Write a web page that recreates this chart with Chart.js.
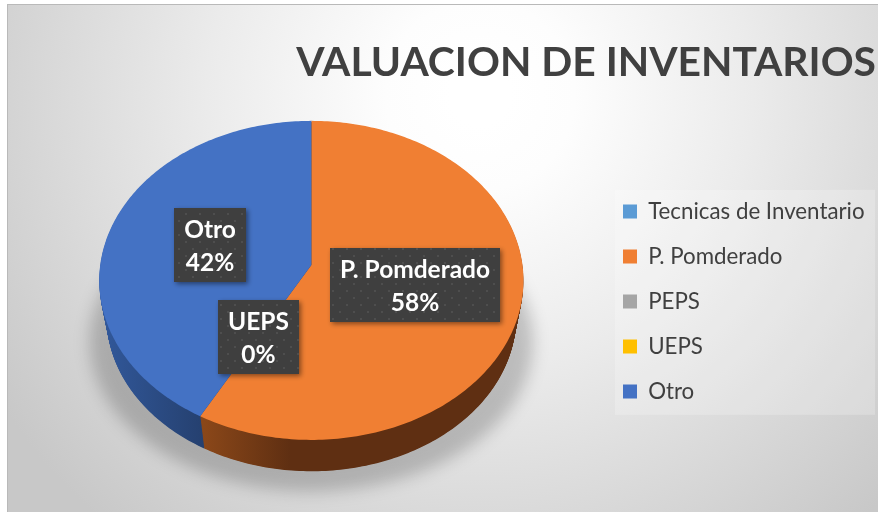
<!DOCTYPE html>
<html><head><meta charset="utf-8">
<style>html,body{margin:0;padding:0;background:#fff}canvas{display:block}</style>
<script src="https://cdn.jsdelivr.net/npm/chart.js@4/dist/chart.umd.min.js"></script>
</head><body>
<div style="width:878px;height:515px"><canvas id="c" width="878" height="515"></canvas></div>
<script>
const titleText = "VALUACION DE INVENTARIOS";
const categories = ["Tecnicas de Inventario","P. Pomderado","PEPS","UEPS","Otro"];
const values = [0,58,0,0,42];
const sliceColors = ["#5b9bd5","#f07f33","#a5a5a5","#ffc000","#4472c4"];
const labelled = ["P. Pomderado","UEPS","Otro"];

// perspective tilt of the pie disc, relative to the library's radius
const tilt = {ax:0.986, by:0.738, k:-0.097, lift:0.168, depth:0.175, taper:0.035};

function project(el,u,v,t){
  const R = el.outerRadius, s = 1 - tilt.taper*t, w = 1 + tilt.k*v;
  return [el.x + R*tilt.ax*s*u/w,
          el.y - R*tilt.lift + R*tilt.by*s*v/w + R*tilt.depth*t];
}
function slicePath(ctx,el,t){
  const n = Math.max(8,Math.ceil((el.endAngle-el.startAngle)*60));
  ctx.beginPath();
  let p = project(el,0,0,t); ctx.moveTo(p[0],p[1]);
  for(let i=0;i<=n;i++){
    const a = el.startAngle+(el.endAngle-el.startAngle)*i/n;
    p = project(el,Math.cos(a),Math.sin(a),t); ctx.lineTo(p[0],p[1]);
  }
  ctx.closePath();
}
function dotPattern(ctx){
  const c = document.createElement('canvas'); c.width=c.height=14;
  const g = c.getContext('2d');
  g.fillStyle='#3f3f3f'; g.fillRect(0,0,14,14);
  g.fillStyle='#4e4e4e';
  g.fillRect(3,3,2,2); g.fillRect(10,10,2,2);
  return ctx.createPattern(c,'repeat');
}
const panelPlugin = {
  id:'panel',
  afterLayout(chart){
    const lg = chart.legend;
    lg.left = 623 - lg.options.labels.padding;
    lg.top += 44; lg.bottom += 44;
  },
  beforeDraw(chart){
    const ctx = chart.ctx, L=7,T=4,W=chart.width-L,H=chart.height-3-T;
    ctx.save();
    const g = ctx.createRadialGradient(480,95,30,480,95,570);
    g.addColorStop(0,'#ffffff'); g.addColorStop(0.12,'#fdfdfd');
    g.addColorStop(0.45,'#ebebeb'); g.addColorStop(1,'#c8c8c8');
    ctx.fillStyle=g; ctx.fillRect(L,T,W,H);
    ctx.fillStyle='#b9b9b9'; ctx.fillRect(L,T,W,1); ctx.fillRect(L,T,1,H);
    const lg = chart.legend, mid=(lg.top+lg.bottom+lg.options.labels.padding)/2;
    ctx.fillStyle='rgba(255,255,255,0.22)';
    ctx.fillRect(lg.left+14.7,mid-123,260,225);
    ctx.restore();
  }
};
const piePlugin = {
  id:'pie3d',
  beforeDatasetsDraw(chart){
    const ctx = chart.ctx, meta = chart.getDatasetMeta(0), arcs = meta.data, data = chart.data.datasets[0].data;
    const any = arcs[0], R = any.outerRadius;
    // soft ground shadow
    ctx.save();
    ctx.filter='blur(8px)';
    ctx.fillStyle='rgba(0,0,0,0.2)';
    ctx.beginPath();
    ctx.ellipse(any.x,any.y+R*0.19,R*1.035,R*0.70,0,0,Math.PI*2);
    ctx.fill();
    ctx.restore();
    // side wall: later slices first, so the seam follows the slice boundary
    const walls = {1:['#8a4719','#5f2f12'],4:['#32599c','#25406f']};
    const left = any.x-R;
    for(let i=arcs.length-1;i>=0;i--){
      if(!data[i]) continue;
      const el = arcs[i], w = walls[i];
      const g = ctx.createLinearGradient(i===1?any.x-R*0.5:left,0,i===1?any.x-R*0.1:any.x-R*0.5,0);
      g.addColorStop(0,w[0]); g.addColorStop(1,w[1]);
      ctx.fillStyle = g;
      for(let t=1;t>0;t-=0.02){ slicePath(ctx,el,t); ctx.fill(); }
    }
    // top faces
    arcs.forEach((el,i)=>{
      if(!data[i]) return;
      ctx.fillStyle = sliceColors[i];
      slicePath(ctx,el,0); ctx.fill();
    });
    // labels
    const pat = dotPattern(ctx);
    const total = data.reduce((a,b)=>a+b,0);
    arcs.forEach((el,i)=>{
      if(!labelled.includes(categories[i])) return;
      const mid = (el.startAngle+el.endAngle)/2;
      const p = project(el,Math.cos(mid)*0.5,Math.sin(mid)*0.5,0);
      const lines = [categories[i],Math.round(data[i]/total*100)+'%'];
      ctx.save();
      ctx.font='bold 24.5px Lato';
      const tw = Math.max(...lines.map(s=>ctx.measureText(s).width));
      const bw = Math.round(tw+20), bh = 74;
      const x = Math.round(p[0]-bw/2), y = Math.round(p[1]-bh/2);
      ctx.shadowColor='rgba(0,0,0,0.45)'; ctx.shadowBlur=5; ctx.shadowOffsetX=2; ctx.shadowOffsetY=2;
      ctx.fillStyle=pat; ctx.fillRect(x,y,bw,bh);
      ctx.shadowColor='transparent';
      ctx.fillStyle='#ffffff'; ctx.textAlign='center'; ctx.textBaseline='middle';
      ctx.fillText(lines[0],x+bw/2,y+22);
      ctx.fillText(lines[1],x+bw/2,y+55);
      ctx.restore();
    });
    return false;
  }
};
new Chart(document.getElementById('c'),{
  type:'pie',
  data:{labels:categories,datasets:[{data:values,backgroundColor:sliceColors,borderWidth:0}]},
  options:{
    responsive:false,animation:false,
    layout:{padding:{left:21,right:2,top:0,bottom:0}},
    plugins:{
      title:{display:true,text:titleText,align:'end',color:'#404040',
        font:{family:'Lato',size:40.8,weight:'bold'},padding:{top:38,bottom:-0.2}},
      legend:{position:'right',
        labels:{boxWidth:14,boxHeight:14,color:'#404040',font:{family:'Lato',size:22.3},padding:22.7}},
      tooltip:{enabled:false}
    }
  },
  plugins:[panelPlugin,piePlugin]
});
</script>
</body></html>
